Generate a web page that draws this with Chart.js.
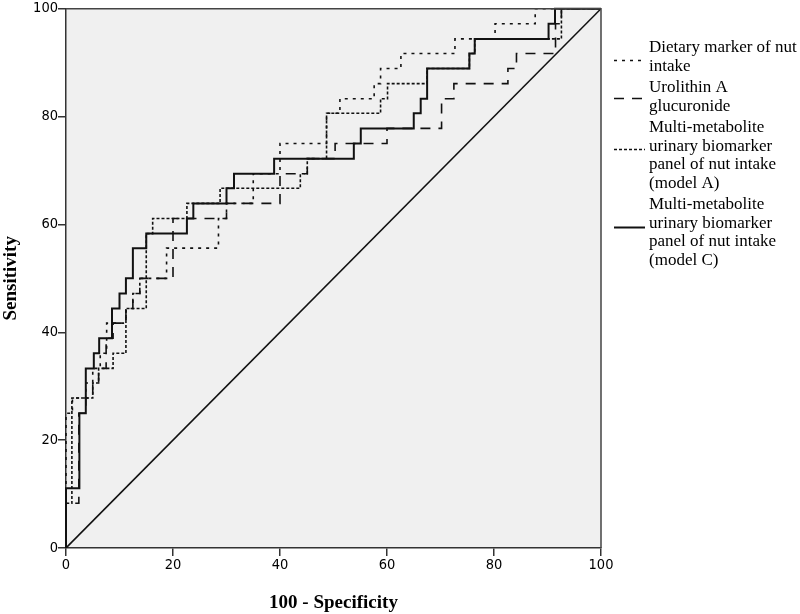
<!DOCTYPE html>
<html>
<head>
<meta charset="utf-8">
<script src="https://cdn.jsdelivr.net/npm/chart.js@4.4.1/dist/chart.umd.min.js"></script>
<style>
  html, body { margin: 0; padding: 0; background: #fff; }
  #wrap { position: relative; width: 800px; height: 614px; }
</style>
</head>
<body>
<div id="wrap"><canvas id="roc" width="800" height="614"></canvas></div>
<script>
// ROC curve corner points: x = 100 - specificity, y = sensitivity
const dietaryX = [0, 0, 1.2, 3.7, 5, 6.4, 7.6, 11.2, 12.5, 13.8, 18.8, 28.5, 30, 35, 40, 48.7, 51.2, 57.6, 58.8, 62.6, 72.7, 80.2, 87.7, 100];
const dietaryY = [0, 25, 27.8, 30.6, 33.3, 36.1, 41.7, 44.4, 47.2, 50, 55.6, 61.1, 63.9, 69.4, 75, 80.6, 83.3, 86.1, 88.9, 91.7, 94.4, 97.2, 100, 100];

const urolithinX = [0, 0, 2.4, 3.7, 5, 6.1, 7.5, 8.8, 11.2, 12.5, 13.8, 20, 30, 40, 45.1, 50.3, 60, 70.2, 72.5, 82.6, 84.2, 91.5, 92.6, 100];
const urolithinY = [0, 8.3, 25, 27.8, 30.6, 33.3, 38.9, 41.7, 44.4, 47.2, 50, 61.1, 63.9, 69.4, 72.2, 75, 77.8, 83.3, 86.1, 88.9, 91.7, 97.2, 100, 100];

const modelAX = [0, 0, 1.1, 5, 6.1, 8.8, 11.2, 15, 16.2, 22.6, 28.8, 43.8, 45.1, 48.7, 58.8, 60.1, 67.5, 75.4, 76.4, 92.6, 100];
const modelAY = [0, 8.3, 27.8, 30.6, 33.3, 36.1, 44.4, 58.3, 61.1, 63.9, 66.7, 69.4, 72.2, 80.6, 83.3, 86.1, 88.9, 91.7, 94.4, 100, 100];

const modelCX = [0, 0, 2.5, 3.7, 5.2, 6.2, 8.6, 10, 11.2, 12.5, 15, 22.6, 23.8, 30, 31.4, 38.9, 53.8, 55.1, 65, 66.3, 67.5, 75.4, 76.4, 90.2, 91.4, 100];
const modelCY = [0, 11.1, 25, 33.3, 36.1, 38.9, 44.4, 47.2, 50, 55.6, 58.3, 61.1, 63.9, 66.7, 69.4, 72.2, 75, 77.8, 80.6, 83.3, 88.9, 91.7, 94.4, 97.2, 100, 100];

const refX = [0, 100];
const refY = [0, 100];

const xTicks = [0, 20, 40, 60, 80, 100];
const yTicks = [0, 20, 40, 60, 80, 100];

const legendItems = [
  { lines: ['Dietary marker of nut', 'intake'], dash: [3, 5], width: 1.6, top: 48, mark: 60 },
  { lines: ['Urolithin A', 'glucuronide'], dash: [10, 8], width: 1.6, top: 88, mark: 98 },
  { lines: ['Multi-metabolite', 'urinary biomarker', 'panel of nut intake', '(model A)'], dash: [3, 2], width: 1.6, top: 128, mark: 149 },
  { lines: ['Multi-metabolite', 'urinary biomarker', 'panel of nut intake', '(model C)'], dash: [], width: 2, top: 205, mark: 227 }
];

function toPoints(xs, ys) {
  return xs.map((x, i) => ({ x: x, y: ys[i] }));
}

const INK = '#111';

// fondo gris del área del gráfico y marco superior/derecho
const framePlugin = {
  id: 'frame',
  beforeDraw(chart) {
    const { ctx, chartArea: a } = chart;
    ctx.save();
    ctx.fillStyle = '#f0f0f0';
    ctx.fillRect(a.left, a.top, a.right - a.left, a.bottom - a.top);
    ctx.restore();
  },
  afterDraw(chart) {
    const { ctx, chartArea: a } = chart;
    ctx.save();
    ctx.strokeStyle = '#444';
    ctx.lineWidth = 1.5;
    ctx.beginPath();
    ctx.moveTo(a.left, a.top);
    ctx.lineTo(a.right, a.top);
    ctx.lineTo(a.right, a.bottom);
    ctx.stroke();
    ctx.restore();
  }
};

// leyenda a la derecha, con texto en varias líneas
const legendPlugin = {
  id: 'sideLegend',
  afterDraw(chart) {
    const ctx = chart.ctx;
    const textX = 649;
    const lineH = 18.5;
    ctx.save();
    ctx.font = '17px "Liberation Serif", "Times New Roman", serif';
    ctx.fillStyle = '#000';
    ctx.textBaseline = 'middle';
    ctx.textAlign = 'left';
    legendItems.forEach(item => {
      item.lines.forEach((t, i) => {
        ctx.fillText(t, textX, item.top + i * lineH);
      });
      ctx.strokeStyle = INK;
      ctx.lineWidth = item.width;
      ctx.setLineDash(item.dash);
      ctx.beginPath();
      ctx.moveTo(614, item.mark + 0.5);
      ctx.lineTo(645, item.mark + 0.5);
      ctx.stroke();
    });
    ctx.restore();
  }
};

function curve(label, xs, ys, dash, width) {
  return {
    label: label,
    data: toPoints(xs, ys),
    borderColor: INK,
    borderWidth: width,
    borderDash: dash,
    stepped: 'before',
    pointRadius: 0,
    fill: false,
    clip: 3
  };
}

const tickFont = { family: '"DejaVu Sans Condensed", "Liberation Sans", sans-serif', size: 14.5 };
const titleFont = { family: '"Liberation Serif", "Times New Roman", serif', size: 19, weight: 'bold' };

new Chart(document.getElementById('roc'), {
  type: 'line',
  data: {
    datasets: [
      curve('Multi-metabolite urinary biomarker panel of nut intake (model C)', modelCX, modelCY, [], 2),
      curve('Multi-metabolite urinary biomarker panel of nut intake (model A)', modelAX, modelAY, [3, 2], 1.6),
      curve('Urolithin A glucuronide', urolithinX, urolithinY, [10, 8], 1.6),
      curve('Dietary marker of nut intake', dietaryX, dietaryY, [3, 5], 1.6),
      {
        label: 'reference',
        data: toPoints(refX, refY),
        borderColor: INK,
        borderWidth: 1.6,
        pointRadius: 0,
        fill: false
      }
    ]
  },
  options: {
    responsive: false,
    animation: false,
    devicePixelRatio: 1,
    layout: { padding: { top: 5, right: 199, left: 0, bottom: 0 } },
    plugins: {
      legend: { display: false },
      tooltip: { enabled: false }
    },
    scales: {
      x: {
        type: 'linear',
        min: 0,
        max: 100,
        afterBuildTicks: s => { s.ticks = xTicks.map(v => ({ value: v })); },
        afterFit: s => { s.height = 66; },
        ticks: { font: tickFont, color: '#000', padding: 1, maxRotation: 0 },
        grid: { drawOnChartArea: false, drawTicks: true, tickLength: 8, color: '#333', lineWidth: 1.5 },
        border: { display: true, color: '#333', width: 1.5 },
        title: { display: true, text: '100 - Specificity', font: titleFont, color: '#000', padding: { top: 0, bottom: 0 } }
      },
      y: {
        type: 'linear',
        min: 0,
        max: 100,
        afterBuildTicks: s => { s.ticks = yTicks.map(v => ({ value: v })); },
        afterFit: s => { s.width = 66; },
        ticks: { font: tickFont, color: '#000', padding: 0 },
        grid: { drawOnChartArea: false, drawTicks: true, tickLength: 8, color: '#333', lineWidth: 1.5 },
        border: { display: true, color: '#333', width: 1.5 },
        title: { display: true, text: 'Sensitivity', font: titleFont, color: '#000', padding: { top: 0, bottom: 0 } }
      }
    }
  },
  plugins: [framePlugin, legendPlugin]
});
</script>
</body>
</html>
